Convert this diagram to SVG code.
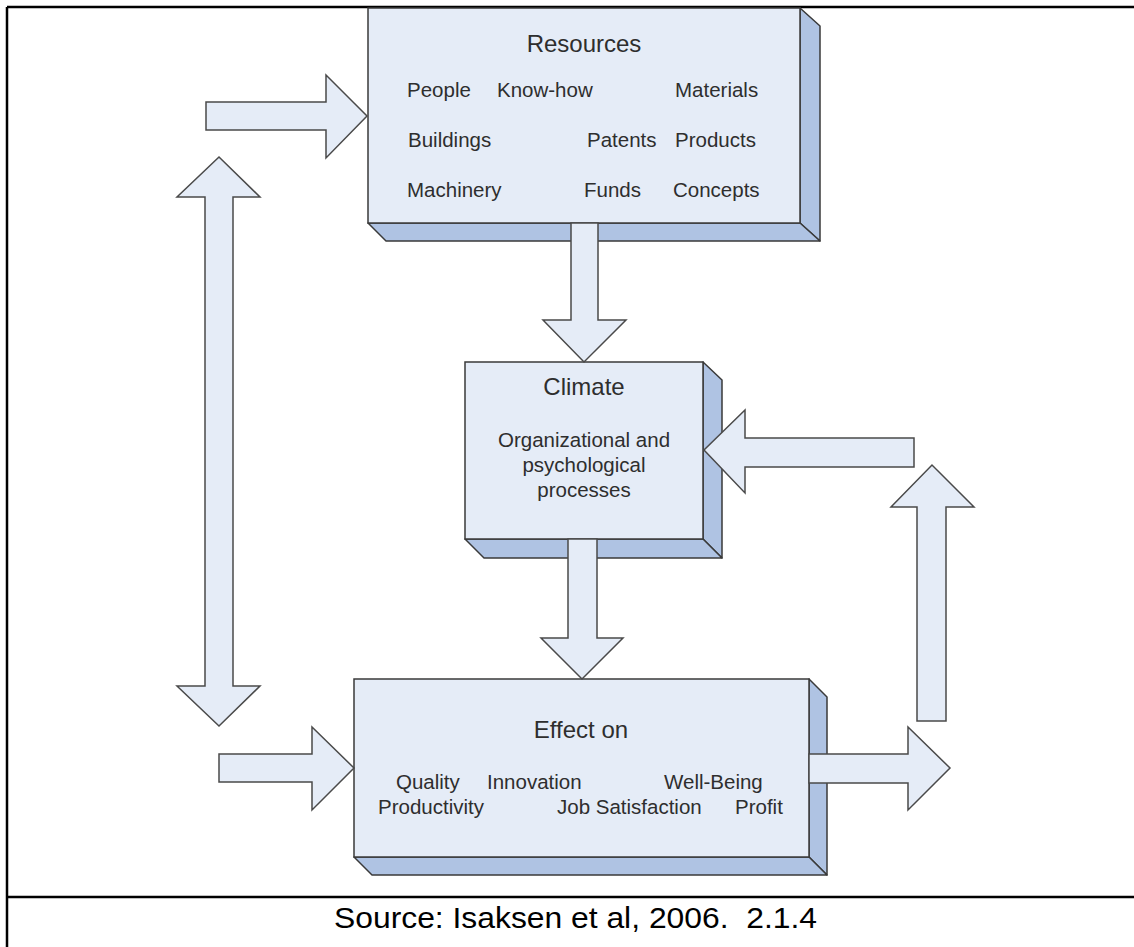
<svg xmlns="http://www.w3.org/2000/svg" width="1134" height="947" viewBox="0 0 1134 947">
<style>
.front{fill:#E5ECF7;stroke:#3a3a3a;stroke-width:1.5}
.side{fill:#AFC3E3;stroke:#3a3a3a;stroke-width:1.5;stroke-linejoin:round}
.arrow{fill:#E5ECF7;stroke:#4a4a4a;stroke-width:1.5;stroke-linejoin:miter}
.title{font-family:"Liberation Sans",Arial,sans-serif;font-size:24px;fill:#2e2e2e;text-anchor:middle}
.item{font-family:"Liberation Sans",Arial,sans-serif;font-size:20.5px;fill:#2e2e2e}
.body{font-family:"Liberation Sans",Arial,sans-serif;font-size:20.5px;fill:#2e2e2e;text-anchor:middle}
.frame{stroke:#000;stroke-width:2.5;fill:none}
.caption{font-family:"Liberation Sans",Arial,sans-serif;font-size:29px;fill:#000;white-space:pre}
</style>
<rect x="0" y="0" width="1134" height="947" fill="#fff"/>
<g id="frame">
<line class="frame" x1="7" y1="7" x2="1134" y2="7"/>
<line class="frame" x1="7" y1="7" x2="7" y2="947"/>
<line class="frame" x1="7" y1="897" x2="1134" y2="897"/>
<text class="caption" x="334" y="928" textLength="483" lengthAdjust="spacingAndGlyphs" xml:space="preserve">Source: Isaksen et al, 2006.  2.1.4</text>
</g>
<g id="resources">
<polygon class="side" points="800,8 820,26 820,241 800,223"/>
<polygon class="side" points="368,223 386,241 820,241 800,223"/>
<rect class="front" x="368" y="8" width="432" height="215"/>
<text class="title" x="584" y="52">Resources</text>
<text class="item" x="407" y="97">People</text>
<text class="item" x="497" y="97">Know-how</text>
<text class="item" x="675" y="97">Materials</text>
<text class="item" x="408" y="147">Buildings</text>
<text class="item" x="587" y="147">Patents</text>
<text class="item" x="675" y="147">Products</text>
<text class="item" x="407" y="197">Machinery</text>
<text class="item" x="584" y="197">Funds</text>
<text class="item" x="673" y="197">Concepts</text>
</g>
<g id="climate">
<polygon class="side" points="703,362 722,380 722,558 703,539"/>
<polygon class="side" points="465,539 484,558 722,558 703,539"/>
<rect class="front" x="465" y="362" width="238" height="177"/>
<text class="title" x="584" y="395">Climate</text>
<text class="body" x="584" y="447">Organizational and</text>
<text class="body" x="584" y="472">psychological</text>
<text class="body" x="584" y="497">processes</text>
</g>
<g id="effect">
<polygon class="side" points="809,679 827,697 827,875 809,857"/>
<polygon class="side" points="354,857 372,875 827,875 809,857"/>
<rect class="front" x="354" y="679" width="455" height="178"/>
<text class="title" x="581" y="738">Effect on</text>
<text class="item" x="396" y="789">Quality</text>
<text class="item" x="487" y="789">Innovation</text>
<text class="item" x="664" y="789">Well-Being</text>
<text class="item" x="378" y="814">Productivity</text>
<text class="item" x="557" y="814">Job Satisfaction</text>
<text class="item" x="735" y="814">Profit</text>
</g>
<g id="connectors">
<polygon class="arrow" points="206,102 326,102 326,75 367,116 326,158 326,130 206,130"/>
<polygon class="arrow" points="219,157 260,197 233,197 233,686 260,686 219,726 177,686 205,686 205,197 177,197"/>
<polygon class="arrow" points="571,223 598,223 598,320 626,320 584,362 543,320 571,320"/>
<polygon class="arrow" points="568,539 597,539 597,638 623,638 582,679 541,638 568,638"/>
<polygon class="arrow" points="219,754 312,754 312,727 354,768 312,810 312,782 219,782"/>
<polygon class="arrow" points="809,754 908,754 908,727 950,768 908,810 908,783 809,783"/>
<polygon class="arrow" points="917,721 917,507 891,507 932,465 974,507 946,507 946,721"/>
<polygon class="arrow" points="914,438 745,438 745,410 704,450 745,493 745,467 914,467"/>
</g>
</svg>
